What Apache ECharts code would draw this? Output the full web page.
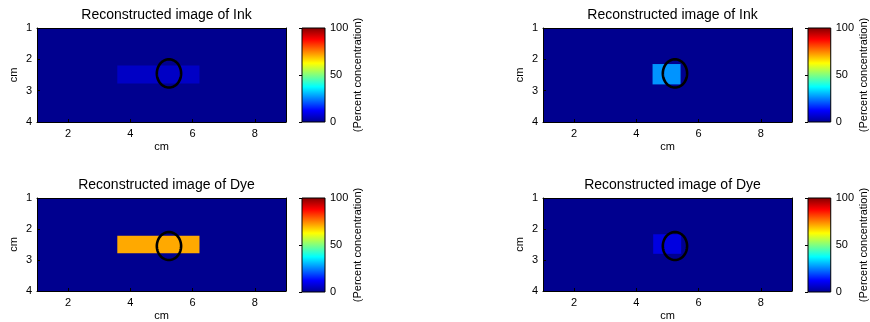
<!DOCTYPE html>
<html>
<head>
<meta charset="utf-8">
<script src="https://cdn.jsdelivr.net/npm/echarts@6/dist/echarts.min.js"></script>
<style>
html, body { margin: 0; background: #fff; }
#main { width: 870px; height: 322px; }
</style>
</head>
<body>
<div id="main"></div>
<script>
// tick labels
var xTicks = [2, 4, 6, 8];
var cbTicks = [0, 50, 100];
var titles = ['Reconstructed image of Ink', 'Reconstructed image of Ink',
              'Reconstructed image of Dye', 'Reconstructed image of Dye'];

// patches: [x0 (cm), x1 (cm), y0 (cm), y1 (cm), percent concentration]
var inkLeft  = [[1, 9, 1, 4, 0], [3.58, 6.22, 2.2, 2.77, 6]];
var inkRight = [[1, 9, 1, 4, 0], [4.52, 5.42, 2.15, 2.8, 27]];
var dyeLeft  = [[1, 9, 1, 4, 0], [3.58, 6.22, 2.22, 2.78, 71]];
var dyeRight = [[1, 9, 1, 4, 0], [4.54, 5.44, 2.17, 2.8, 9]];
var panels = [inkLeft, inkRight, dyeLeft, dyeRight];

// target outline: [cx, cy, rx, ry] in cm
var targets = [[5.24, 2.45, 0.39, 0.45], [5.24, 2.45, 0.39, 0.45],
               [5.24, 2.55, 0.39, 0.45], [5.24, 2.55, 0.39, 0.45]];

var colorRange = [[0, 100]];

var jet = ['#00008f', '#0000ff', '#0080ff', '#00ffff', '#80ff80',
           '#ffff00', '#ff8000', '#ff0000', '#800000'];

var colLeft = [37, 543], rowTop = [28, 198], cbLeft = [302, 808];
var plotW = 249, plotH = 94, cbW = 23;
var font = 'Liberation Sans, Arial, sans-serif';
var txt = { color: '#000', fontFamily: font, fontSize: 11 };

function renderCells(params, api) {
  var p0 = api.coord([api.value(0), api.value(2)]);
  var p1 = api.coord([api.value(1), api.value(3)]);
  return {
    type: 'rect',
    shape: {
      x: Math.min(p0[0], p1[0]), y: Math.min(p0[1], p1[1]),
      width: Math.abs(p1[0] - p0[0]), height: Math.abs(p1[1] - p0[1])
    },
    style: { fill: api.visual('color') }
  };
}

function renderRing(params, api) {
  var cx = api.value(0), cy = api.value(1), rx = api.value(2), ry = api.value(3);
  var pts = [];
  for (var k = 0; k < 72; k++) {
    var t = k / 72 * 2 * Math.PI;
    pts.push(api.coord([cx + rx * Math.cos(t), cy + ry * Math.sin(t)]));
  }
  return { type: 'polygon', shape: { points: pts },
           style: { fill: 'none', stroke: '#000', lineWidth: 2.6 } };
}

function renderBar(params, api) {
  var p0 = api.coord([0, api.value(0)]);
  var p1 = api.coord([1, api.value(1)]);
  var stops = jet.map(function (c, k) { return { offset: k / (jet.length - 1), color: c }; });
  return {
    type: 'rect',
    shape: { x: p0[0], y: p1[1], width: p1[0] - p0[0], height: p0[1] - p1[1] },
    style: { fill: new echarts.graphic.LinearGradient(0, 1, 0, 0, stops), stroke: '#000', lineWidth: 1 }
  };
}

var grid = [], xAxis = [], yAxis = [], series = [], title = [], heatIdx = [];

for (var i = 0; i < 4; i++) {
  var r = Math.floor(i / 2), c = i % 2;
  var g = grid.length;
  grid.push({ left: colLeft[c], top: rowTop[r], width: plotW, height: plotH });
  grid.push({ left: cbLeft[c], top: rowTop[r], width: cbW, height: plotH });

  title.push({
    text: titles[i], left: colLeft[c] + plotW / 2, top: rowTop[r] - 25, textAlign: 'center',
    textStyle: { fontFamily: font, fontSize: 14, fontWeight: 'normal', color: '#000' }
  });

  var xa = xAxis.length, ya = yAxis.length;
  xAxis.push({
    type: 'value', gridIndex: g, min: 1, max: 9, z: 5,
    name: 'cm', nameLocation: 'middle', nameGap: 19, nameTextStyle: txt,
    axisLine: { show: true, lineStyle: { color: '#000', width: 1 } },
    axisTick: { show: true, inside: true, length: 3, customValues: xTicks, lineStyle: { color: '#000' } },
    axisLabel: Object.assign({ margin: 6, customValues: xTicks }, txt),
    splitLine: { show: false }
  });
  xAxis.push({
    type: 'value', gridIndex: g, min: 1, max: 9, position: 'top', z: 5,
    axisLine: { show: true, lineStyle: { color: '#000', width: 1 } },
    axisTick: { show: false }, axisLabel: { show: false }, splitLine: { show: false }
  });
  yAxis.push({
    type: 'value', gridIndex: g, min: 1, max: 4, interval: 1, inverse: true, z: 5,
    name: 'cm', nameLocation: 'middle', nameGap: 18, nameRotate: 90, nameTextStyle: txt,
    axisLine: { show: true, lineStyle: { color: '#000', width: 1 } },
    axisTick: { show: true, inside: true, length: 3, lineStyle: { color: '#000' } },
    axisLabel: Object.assign({ margin: 5 }, txt),
    splitLine: { show: false }
  });
  yAxis.push({
    type: 'value', gridIndex: g, min: 1, max: 4, inverse: true, position: 'right', z: 5,
    axisLine: { show: true, lineStyle: { color: '#000', width: 1 } },
    axisTick: { show: false }, axisLabel: { show: false }, splitLine: { show: false }
  });
  // colorbar axes
  var xb = xAxis.length, yb = yAxis.length;
  xAxis.push({ type: 'value', gridIndex: g + 1, min: 0, max: 1, show: false });
  yAxis.push({
    type: 'value', gridIndex: g + 1, min: 0, max: 100, interval: 50, position: 'right', z: 5,
    name: '(Percent concentration)', nameLocation: 'middle', nameGap: 27, nameRotate: 90,
    nameTextStyle: txt,
    axisLine: { show: false },
    axisTick: { show: true, inside: true, length: 3, lineStyle: { color: '#000' } },
    axisLabel: Object.assign({ margin: 5 }, txt),
    splitLine: { show: false }
  });

  heatIdx.push(series.length);
  series.push({
    type: 'custom', xAxisIndex: xa, yAxisIndex: ya, data: panels[i],
    encode: { x: [0, 1], y: [2, 3] }, renderItem: renderCells, z: 2, silent: true
  });
  series.push({
    type: 'custom', xAxisIndex: xa, yAxisIndex: ya, data: [targets[i]],
    encode: { x: 0, y: 1 }, renderItem: renderRing, z: 3, silent: true
  });
  series.push({
    type: 'custom', xAxisIndex: xb, yAxisIndex: yb, data: colorRange,
    encode: { y: [0, 1] }, renderItem: renderBar, z: 2, silent: true
  });
}

var option = {
  animation: false,
  backgroundColor: '#fff',
  title: title,
  grid: grid,
  xAxis: xAxis,
  yAxis: yAxis,
  visualMap: {
    show: false, type: 'continuous', min: 0, max: 100, dimension: 4,
    seriesIndex: heatIdx, inRange: { color: jet }
  },
  series: series
};

echarts.init(document.getElementById('main')).setOption(option);
</script>
</body>
</html>
